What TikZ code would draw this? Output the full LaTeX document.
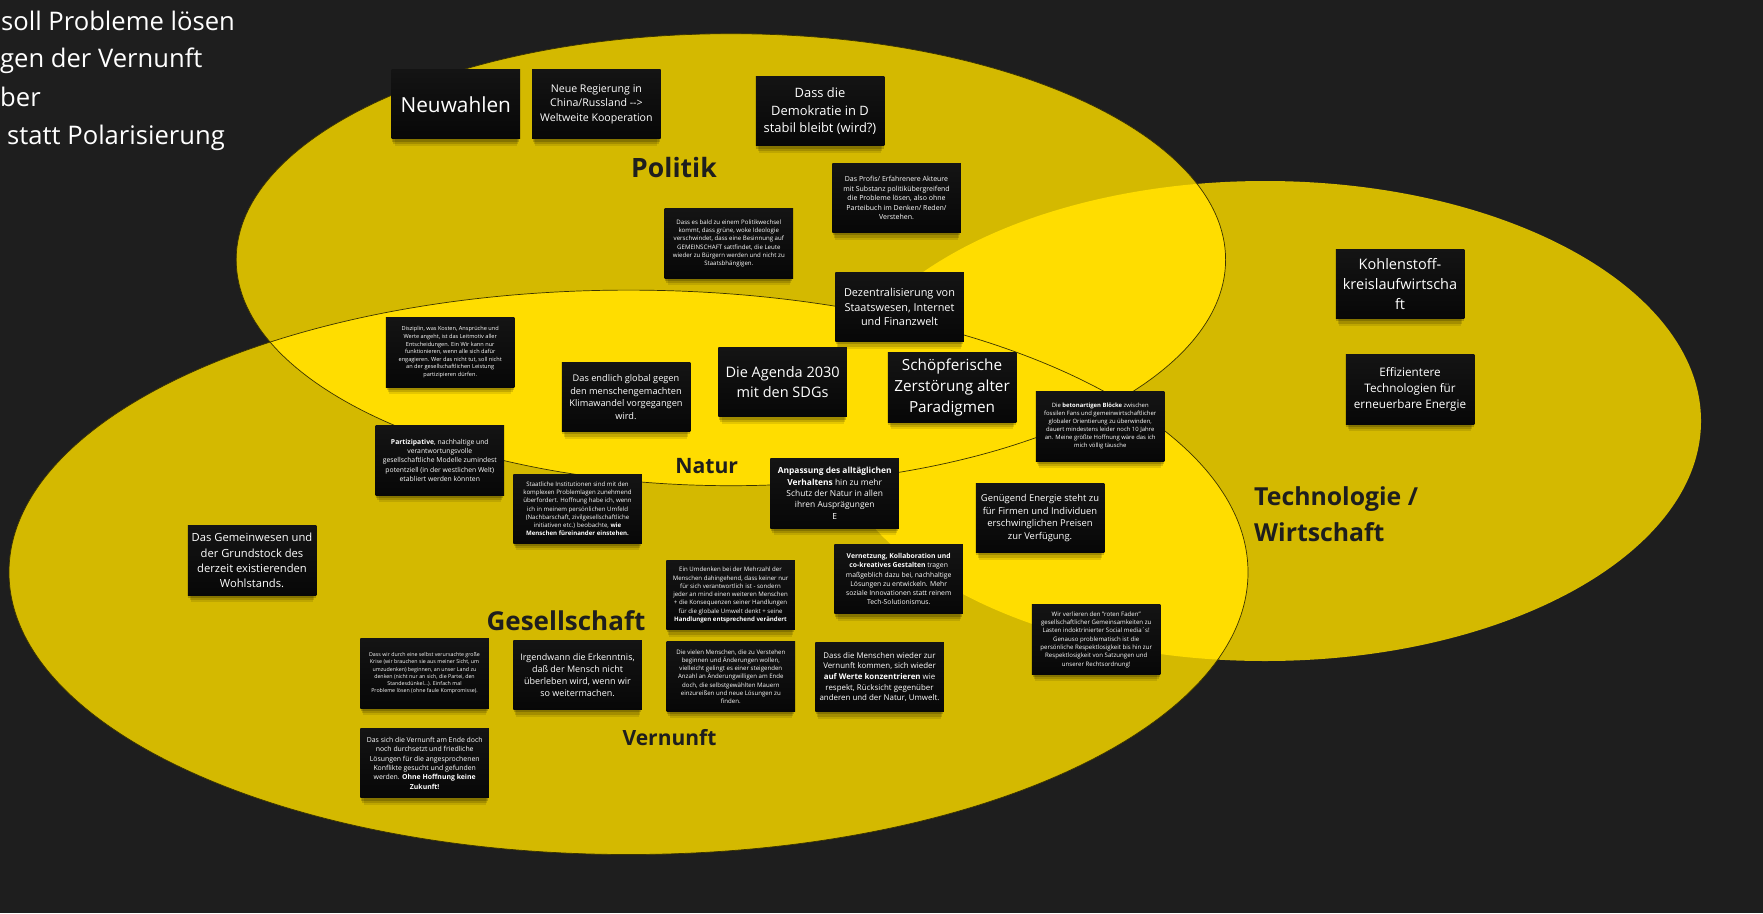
\documentclass[tikz,border=0pt]{standalone}
\usepackage{fontspec}
\setmainfont{Open Sans}
\usetikzlibrary{shadows}

\definecolor{bgdark}{HTML}{1E1E1E}
\definecolor{ydark}{HTML}{D4B900}
\definecolor{ybright}{HTML}{FFDD00}
\definecolor{notetop}{HTML}{141414}
\definecolor{notebot}{HTML}{070707}
\definecolor{labelc}{HTML}{1E1E1E}
\definecolor{rim}{HTML}{3A3300}

% font size with a 1.36 line height
\newcommand{\notefont}[1]{\fontsize{#1}{\fpeval{#1*1.36}}\selectfont}

\tikzset{
  note/.style={top color=notetop, bottom color=notebot, text=white, align=center,
    inner sep=0pt, minimum width=128.5pt, minimum height=69.5pt, font=\notefont{#1},
    drop shadow={shadow xshift=0pt, shadow yshift=-3pt, shadow scale=0.99,
      opacity=0.18, fill=black},
    drop shadow={shadow xshift=0pt, shadow yshift=-6pt, shadow scale=0.97,
      opacity=0.14, fill=black},
    drop shadow={shadow xshift=0pt, shadow yshift=-9pt, shadow scale=0.95,
      opacity=0.10, fill=black}},
  lbl/.style={text=labelc, inner sep=0pt, font=\fontsize{#1}{#1}\selectfont\bfseries},
  toptext/.style={text=white, inner sep=0pt, anchor=base west,
    font=\fontsize{25.6}{36}\selectfont},
  rimline/.style={draw=rim, line width=0.7pt},
}

\begin{document}
\begin{tikzpicture}[x=1pt,y=-1pt]
\useasboundingbox (0,0) rectangle (1763,913);
\clip (0,0) rectangle (1763,913);
\fill[bgdark] (0,0) rectangle (1763,913);

% the three sets
\def\politik{(730.9,259.7) ellipse [x radius=494.7, y radius=226]}
\def\technik{(1265,421) ellipse [x radius=436, y radius=240]}
\def\gesell{(628.5,572.3) ellipse [x radius=619.5, y radius=282.2]}

\fill[ydark] \technik;
\fill[ydark] \politik;
\fill[ydark] \gesell;
\begin{scope}
  \clip \politik;
  \fill[ybright] \gesell;
  \fill[ybright] \technik;
\end{scope}
\begin{scope}
  \clip \technik;
  \fill[ybright] \gesell;
\end{scope}
\draw[rimline] \politik;
\draw[rimline] \gesell;

% heading text at the upper left
\node[toptext] (t1) at (1,30) {soll Probleme lösen};
\node[toptext] (t2) at (0,67) {gen der Vernunft};
\node[toptext] (t3) at (0,106.5) {ber};
\node[toptext] (t4) at (7,144.5) {statt Polarisierung};

% set labels
\node[lbl=26.6, anchor=base] (lPolitik) at (674,177) {Politik};
\node[lbl=21.2, anchor=base] (lNatur) at (706.7,473.3) {Natur};
\node[lbl=26, anchor=base] (lGes) at (566,630) {Gesellschaft};
\node[lbl=21, anchor=base] (lVern) at (669.5,745) {Vernunft};
\node[lbl=24.8, anchor=base west] (lTechA) at (1254,505) {Technologie /};
\node[lbl=24.8, anchor=base west] (lTechB) at (1254,541) {Wirtschaft};

% sticky notes
\node[note=20.8] (n1) at (455.8,104.2) {Neuwahlen};
\node[note=10.6] (n2) at (596.4,104.2) {Neue Regierung in\\China/Russland -{}-{}>\\Weltweite Kooperation};
\node[note=12.9] (n3) at (820,111.2) {Dass die\\Demokratie in D\\stabil bleibt (wird?)};
\node[note=7.0] (n4) at (896.5,198) {Das Profis/ Erfahrenere Akteure\\mit Substanz politikübergreifend\\die Probleme lösen, also ohne\\Parteibuch im Denken/ Reden/\\Verstehen.};
\node[note=6.1] (n5) at (728.8,243.3) {Dass es bald zu einem Politikwechsel\\kommt, dass grüne, woke Ideologie\\verschwindet, dass eine Besinnung auf\\GEMEINSCHAFT sattfindet, die Leute\\wieder zu Bürgern werden und nicht zu\\Staatsbhängigen.};
\node[note=10.9] (n6) at (899.5,307) {Dezentralisierung von\\Staatswesen, Internet\\und Finanzwelt};
\node[note=14.5] (n7) at (1400,284) {Kohlenstoff-\\kreislaufwirtscha\\ft};
\node[note=11.7] (n8) at (1410,389.5) {Effizientere\\Technologien für\\erneuerbare Energie};
\node[note=5.6] (n9) at (450.2,352.3) {Disziplin, was Kosten, Ansprüche und\\Werte angeht, ist das Leitmotiv aller\\Entscheidungen. Ein Wir kann nur\\funktionieren, wenn alle sich dafür\\engagieren. Wer das nicht tut, soll nicht\\an der gesellschaftlichen Leistung\\partizipieren dürfen.};
\node[note=9.2] (n10) at (626,397) {Das endlich global gegen\\den menschengemachten\\Klimawandel vorgegangen\\wird.};
\node[note=14.5] (n11) at (782.6,382.2) {Die Agenda 2030\\mit den SDGs};
\node[note=15.3] (n12) at (952,387.3) {Schöpferische\\Zerstörung alter\\Paradigmen};
\node[note=5.9] (n13) at (1100.2,426.3) {Die \textbf{betonartigen Blöcke} zwischen\\fossilen Fans und gemeinwirtschaftlicher\\globaler Orientierung zu überwinden,\\dauert mindestens leider noch 10 Jahre\\an. Meine größte Hoffnung wäre das ich\\mich völlig täusche};
\node[note=6.8] (n14) at (439.8,460.3) {\textbf{Partizipative}, nachhaltige und\\verantwortungsvolle\\gesellschaftliche Modelle zumindest\\potentziell (in der westlichen Welt)\\etabliert werden könnten};
\node[note=6.1] (n15) at (577.5,508.8) {Staatliche Institutionen sind mit den\\komplexen Problemlagen zunehmend\\überfordert. Hoffnung habe ich, wenn\\ich in meinem persönlichen Umfeld\\(Nachbarschaft, zivilgesellschaftliche\\initiativen etc.) beobachte, \textbf{wie}\\\textbf{Menschen füreinander einstehen.}};
\node[note=8.4] (n16) at (834.7,493.3) {\textbf{Anpassung des alltäglichen}\\\textbf{Verhaltens} hin zu mehr\\Schutz der Natur in allen\\ihren Ausprägungen\\E};
\node[note=9.4] (n17) at (1040,518) {Genügend Energie steht zu\\für Firmen und Individuen\\erschwinglichen Preisen\\zur Verfügung.};
\node[note=11.2] (n18) at (252,560.5) {Das Gemeinwesen und\\der Grundstock des\\derzeit existierenden\\Wohlstands.};
\node[note=6.1] (n19) at (730.5,595) {Ein Umdenken bei der Mehrzahl der\\Menschen dahingehend, dass keiner nur\\für sich verantwortlich ist - sondern\\jeder an mind einen weiteren Menschen\\+ die Konsequenzen seiner Handlungen\\für die globale Umwelt denkt + seine\\\textbf{Handlungen entsprechend verändert}};
\node[note=6.8] (n20) at (898.7,579.2) {\textbf{Vernetzung, Kollaboration und}\\\textbf{co-kreatives Gestalten} tragen\\maßgeblich dazu bei, nachhaltige\\Lösungen zu entwickeln. Mehr\\soziale Innovationen statt reinem\\Tech-Solutionismus.};
\node[note=6.1] (n21) at (1096.2,639.7) {Wir verlieren den "roten Faden"\\gesellschaftlicher Gemeinsamkeiten zu\\Lasten indoktrinierter Social media´s!\\Genauso problematisch ist die\\persönliche Respektlosigkeit bis hin zur\\Respektlosigkeit von Satzungen und\\unserer Rechtsordnung!};
\node[note=5.3] (n22) at (424.5,673.3) {Dass wir durch eine selbst verursachte große\\Krise (wir brauchen sie aus meiner Sicht, um\\umzudenken) beginnen, an unser Land zu\\denken (nicht nur an sich, die Partei, den\\Standesdünkel...). Einfach mal\\Probleme lösen (ohne faule Kompromisse).};
\node[note=9] (n23) at (577.5,675) {Irgendwann die Erkenntnis,\\daß der Mensch nicht\\überleben wird, wenn wir\\so weitermachen.};
\node[note=6.1] (n24) at (730.8,676.7) {Die vielen Menschen, die zu Verstehen\\beginnen und Änderungen wollen,\\vielleicht gelingt es einer steigenden\\Anzahl an Änderungwilligen am Ende\\doch, die selbstgewählten Mauern\\einzureißen und neue Lösungen zu\\finden.};
\node[note=7.9] (n25) at (879.5,677) {Dass die Menschen wieder zur\\Vernunft kommen, sich wieder\\\textbf{auf Werte konzentrieren} wie\\respekt, Rücksicht gegenüber\\anderen und der Natur, Umwelt.};
\node[note=6.9] (n26) at (424.7,763.2) {Das sich die Vernunft am Ende doch\\noch durchsetzt und friedliche\\Lösungen für die angesprochenen\\Konflikte gesucht und gefunden\\werden. \textbf{Ohne Hoffnung keine}\\\textbf{Zukunft!}};
\end{tikzpicture}
\end{document}
